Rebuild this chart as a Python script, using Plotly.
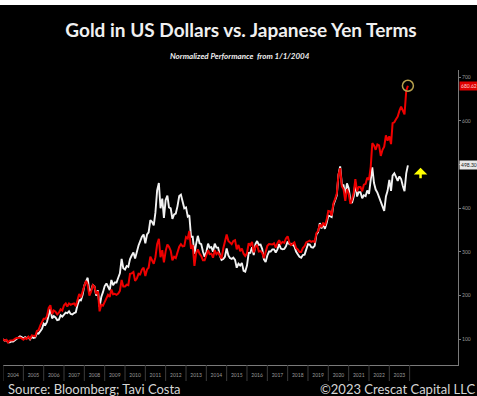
import plotly.graph_objects as go
import pandas as pd

# ---------------- data (normalized, 1/1/2004 = 100), monthly ----------------
months = pd.date_range("2004-01-01", "2023-12-01", freq="MS")
years = list(range(2004, 2024))

gold_usd = [
    100, 97, 98, 93, 93, 95, 95, 98, 100, 102, 107, 105,
    102, 105, 103, 105, 100, 106, 103, 104, 114, 113, 119, 124,
    136, 133, 140, 157, 170, 148, 153, 150, 144, 145, 155, 152,
    157, 161, 160, 164, 158, 157, 160, 162, 179, 190, 189, 202,
    223, 234, 241, 208, 213, 224, 221, 200, 212, 175, 197, 208,
    222, 228, 220, 213, 236, 224, 230, 230, 241, 251, 284, 263,
    260, 268, 266, 284, 292, 299, 285, 301, 315, 325, 335, 340,
    320, 340, 345, 373, 369, 361, 390, 441, 458, 400, 422, 378,
    419, 429, 402, 400, 376, 386, 388, 405, 428, 431, 414, 400,
    402, 381, 384, 335, 335, 296, 318, 337, 320, 318, 301, 289,
    300, 319, 310, 311, 301, 319, 310, 310, 292, 282, 284, 289,
    308, 292, 286, 284, 287, 282, 264, 273, 269, 275, 257, 255,
    269, 298, 298, 311, 293, 318, 325, 316, 317, 307, 283, 277,
    292, 301, 301, 306, 306, 299, 306, 318, 308, 306, 307, 313,
    324, 318, 319, 317, 313, 301, 295, 289, 287, 293, 294, 308,
    318, 317, 311, 310, 314, 340, 345, 366, 354, 364, 353, 366,
    383, 382, 380, 407, 417, 429, 476, 496, 454, 453, 429, 457,
    446, 418, 412, 427, 458, 427, 437, 437, 423, 430, 428, 441,
    433, 460, 494, 458, 443, 436, 425, 412, 400, 394, 427, 440,
    465, 440, 475, 480, 472, 463, 473, 467, 451, 439, 480, 498.30,
]

gold_jpy = [
    100, 97, 99, 93, 97, 97, 98, 101, 103, 103, 104, 102,
    99, 103, 101, 106, 101, 109, 108, 107, 119, 121, 132, 138,
    147, 147, 153, 172, 178, 158, 166, 163, 157, 161, 169, 166,
    178, 182, 175, 182, 179, 181, 182, 176, 194, 204, 196, 211,
    223, 234, 225, 200, 209, 224, 221, 204, 210, 164, 179, 177,
    187, 196, 202, 197, 214, 203, 204, 202, 205, 211, 236, 221,
    221, 225, 224, 250, 251, 254, 234, 239, 250, 249, 260, 264,
    245, 260, 264, 289, 279, 273, 288, 318, 330, 288, 304, 276,
    302, 317, 312, 303, 281, 289, 286, 299, 312, 318, 313, 314,
    334, 331, 348, 307, 316, 268, 297, 306, 296, 291, 281, 281,
    292, 304, 295, 296, 287, 304, 295, 299, 292, 285, 308, 324,
    340, 325, 321, 318, 325, 327, 306, 316, 302, 308, 296, 291,
    297, 320, 315, 323, 299, 312, 316, 301, 302, 298, 286, 300,
    314, 318, 318, 317, 320, 310, 320, 327, 319, 323, 321, 331,
    336, 321, 316, 320, 322, 309, 306, 300, 300, 309, 313, 322,
    324, 326, 323, 325, 323, 343, 348, 363, 357, 367, 360, 373,
    394, 393, 383, 411, 421, 433, 476, 492, 450, 444, 417, 444,
    434, 410, 420, 435, 467, 439, 449, 449, 439, 454, 456, 470,
    465, 495, 549, 544, 534, 546, 544, 520, 534, 541, 567, 555,
    565, 547, 595, 597, 604, 610, 623, 633, 624, 615, 669, 680.62,
]

y_ticks = [100, 200, 300, 400, 500, 600, 700]
# the 500 label is hidden behind the last-value tag in the original
y_ticktext = ["100", "200", "300", "400", "", "600", "700"]

# ---------------- layout helpers ----------------
W, H = 477, 396
L, R, T, B = 3, 19, 70, 31
pw, ph = W - L - R, H - T - B


def px(x):
    return (x - L) / pw


def py(y):
    return (H - B - y) / ph


FONT = "Lato"

fig = go.Figure()
fig.add_trace(go.Scatter(x=months, y=gold_usd, mode="lines",
                         line=dict(color="#f2f2f2", width=1.9), name="Gold USD"))
fig.add_trace(go.Scatter(x=months, y=gold_jpy, mode="lines",
                         line=dict(color="#ee0000", width=2), name="Gold JPY"))
# circle on the last JPY point
fig.add_trace(go.Scatter(x=[months[-1]], y=[gold_jpy[-1]], mode="markers",
                         marker=dict(symbol="circle-open", size=11,
                                     color="#b9a24e", line=dict(width=1.5))))

shapes = []
# white border strips (top/left)
shapes.append(dict(type="rect", xref="paper", yref="paper", x0=px(-5), x1=px(0),
                   y0=py(H + 5), y1=py(-5), fillcolor="white", line=dict(width=0), layer="above"))
shapes.append(dict(type="rect", xref="paper", yref="paper", x0=px(-5), x1=px(W + 5),
                   y0=py(5), y1=py(-5), fillcolor="white", line=dict(width=0), layer="above"))
# year separators below the axis
for yr in years + [years[-1] + 1]:
    shapes.append(dict(type="line", xref="x", yref="paper",
                       x0=f"{yr}-01-01", x1=f"{yr}-01-01", y0=0, y1=py(381),
                       line=dict(color="#3c3c3c", width=1)))

annotations = [
    dict(text="Normalized Performance  from 1/1/2004", xref="paper", yref="paper",
         x=px(240), y=py(56), showarrow=False, xanchor="center", yanchor="middle",
         font=dict(family=FONT, size=8, color="#eeeeee", style="italic", weight="bold")),
    dict(text="Source: Bloomberg; Tavi Costa", xref="paper", yref="paper",
         x=px(6), y=py(389), showarrow=False, xanchor="left", yanchor="middle",
         font=dict(family=FONT, size=13, color="#d6d6d6")),
    dict(text="©2023 Crescat Capital LLC", xref="paper", yref="paper",
         x=px(477), y=py(389), showarrow=False, xanchor="right", yanchor="middle",
         font=dict(family=FONT, size=13, color="#d6d6d6")),
    # last-value tags
    dict(text=f"{gold_jpy[-1]:.2f}", xref="paper", yref="y", x=1, y=gold_jpy[-1],
         xanchor="left", yanchor="middle", xshift=1, showarrow=False,
         bgcolor="#e00000", borderpad=1,
         font=dict(family=FONT, size=5, color="#ffd0d0")),
    dict(text=f"{gold_usd[-1]:.2f}", xref="paper", yref="y", x=1, y=gold_usd[-1],
         xanchor="left", yanchor="middle", xshift=1, showarrow=False,
         bgcolor="#e8e8e8", borderpad=1,
         font=dict(family=FONT, size=5, color="#202020")),
    # yellow up arrow
    dict(text="", x="2024-07-15", y=493, xref="x", yref="y", showarrow=True,
         ax=0, ay=12, arrowcolor="#ffff00", arrowwidth=2.5, arrowhead=1, arrowsize=0.9),
]

fig.update_layout(
    width=W, height=H,
    margin=dict(l=L, r=R, t=T, b=B),
    paper_bgcolor="black", plot_bgcolor="black",
    showlegend=False,
    title=dict(text="Gold in US Dollars vs. Japanese Yen Terms",
               x=241 / W, xanchor="center", y=1 - 30 / H, yanchor="middle",
               font=dict(family=FONT, size=19, color="#f0f0f0", weight="bold")),
    shapes=shapes,
    annotations=annotations,
    xaxis=dict(range=["2004-01-01", "2026-05-19"], showgrid=False, zeroline=False,
               showline=True, linecolor="#7a7a7a", linewidth=1,
               tickvals=[f"{yr}-07-01" for yr in years], ticktext=[str(yr) for yr in years],
               ticks="", ticklabelstandoff=5,
               tickfont=dict(family=FONT, size=5, color="#9a9a9a")),
    yaxis=dict(range=[41.2, 716.7], side="right", showgrid=False, zeroline=False,
               showline=True, linecolor="#7a7a7a", linewidth=1,
               tickvals=y_ticks, ticktext=y_ticktext,
               ticks="outside", ticklen=2, tickcolor="#7a7a7a",
               tickfont=dict(family=FONT, size=5, color="#9a9a9a")),
)

fig.write_html("out.html", config={"displayModeBar": False},
               post_script="document.body.style.margin='0';document.body.style.overflow='hidden';")
